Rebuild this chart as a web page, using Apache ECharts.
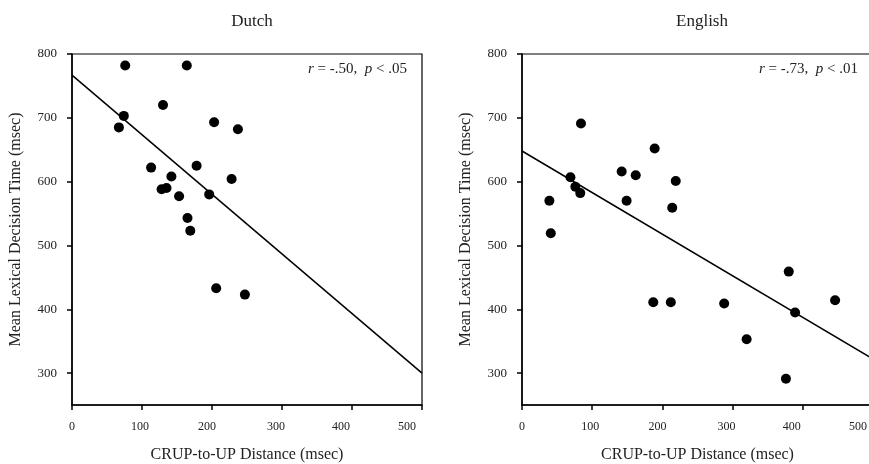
<!DOCTYPE html>
<html>
<head>
<meta charset="utf-8">
<script src="https://cdn.jsdelivr.net/npm/echarts@6/dist/echarts.min.js"></script>
<style>
  html, body { margin: 0; padding: 0; background: #fff; }
  #chart { width: 869px; height: 464px; }
</style>
</head>
<body>
<div id="chart"></div>
<script>
// values
const panelNames = ['Dutch', 'English']
const statsText = ['-.50', '-.73']
const pText = ['.05', '.01']

// [CRUP-to-UP distance, mean lexical decision time]
const dutchPoints = [
  [76, 782], [164, 782], [130, 720], [74, 703], [67, 685],
  [203, 693], [237, 682], [113, 622], [178, 625], [142, 608],
  [228, 604], [128, 588], [135, 590], [153, 577], [196, 580],
  [165, 543], [169, 523], [206, 433], [247, 423]
]
const englishPoints = [
  [84, 691], [189, 652], [142, 616], [162, 610], [69, 607],
  [76, 592], [83, 582], [219, 601], [39, 570], [149, 570],
  [214, 559], [41, 519], [380, 459], [187, 411], [212, 411],
  [288, 409], [446, 414], [389, 395], [320, 353], [376, 291]
]
// regression lines as drawn
const dutchFit = [[0, 767], [500, 300]]
const englishFit = [[0, 648], [500, 322]]

const xTicks = [0, 100, 200, 300, 400, 500]
const yTicks = [300, 400, 500, 600, 700, 800]

const serif = '"Liberation Serif", "DejaVu Serif", serif'

// the original labels drift left along the x axis
const labelShift = { 0: 0, 100: 4, 200: 10, 300: 12, 400: 22, 500: 30 }
const xRich = {}
xTicks.forEach(function (v) {
  xRich['s' + v] = { fontFamily: serif, fontSize: 12, color: '#222', padding: [0, labelShift[v], 0, 0] }
})

function xAxisFor(gridIndex) {
  return {
    gridIndex: gridIndex,
    type: 'value',
    min: 0,
    max: 500,
    interval: 100,
    name: 'CRUP-to-UP Distance (msec)',
    nameLocation: 'middle',
    nameGap: 42,
    nameTextStyle: { fontFamily: serif, fontSize: 16, color: '#222' },
    axisLine: { lineStyle: { color: '#000', width: 1.5 } },
    axisTick: { length: 5, lineStyle: { color: '#000', width: 1.5 } },
    axisLabel: {
      margin: 16,
      formatter: function (v) { return '{s' + v + '|' + v + '}' },
      rich: xRich
    },
    splitLine: { show: false }
  }
}

function yAxisFor(gridIndex) {
  return {
    gridIndex: gridIndex,
    type: 'value',
    min: 250,
    max: 800,
    name: 'Mean Lexical Decision Time (msec)',
    nameLocation: 'middle',
    nameGap: 48,
    nameRotate: 90,
    nameTextStyle: { fontFamily: serif, fontSize: 16, color: '#222' },
    axisLine: { lineStyle: { color: '#000', width: 1.5 } },
    axisTick: { length: 5, customValues: yTicks, lineStyle: { color: '#000', width: 1.5 } },
    axisLabel: { margin: 15, customValues: yTicks, fontFamily: serif, fontSize: 13, color: '#222' },
    splitLine: { show: false }
  }
}

function scatterSeries(idx, pts) {
  return {
    type: 'scatter',
    xAxisIndex: idx,
    yAxisIndex: idx,
    data: pts,
    symbol: 'circle',
    symbolSize: 10,
    itemStyle: { color: '#000', opacity: 1 },
    z: 3
  }
}

function fitSeries(idx, pts) {
  return {
    type: 'line',
    xAxisIndex: idx,
    yAxisIndex: idx,
    data: pts,
    showSymbol: false,
    lineStyle: { color: '#000', width: 1.5 },
    z: 2
  }
}

const chart = echarts.init(document.getElementById('chart'))

const statsRich = {
  i: { fontFamily: serif, fontSize: 15, fontStyle: 'italic', fontWeight: 'normal', color: '#222' },
  n: { fontFamily: serif, fontSize: 15, fontWeight: 'normal', color: '#222' }
}

chart.setOption({
  backgroundColor: '#fff',
  animation: false,
  title: [
    { text: panelNames[0], left: 247, top: 8, textAlign: 'center',
      textStyle: { fontFamily: serif, fontSize: 17, fontWeight: 'normal', color: '#222' } },
    { text: panelNames[1], left: 697, top: 8, textAlign: 'center',
      textStyle: { fontFamily: serif, fontSize: 17, fontWeight: 'normal', color: '#222' } },
    { text: '{i|r}{n| = ' + statsText[0] + ',  }{i|p}{n| < ' + pText[0] + '}', right: 457, top: 57,
      textStyle: { fontWeight: 'normal', rich: statsRich } },
    { text: '{i|r}{n| = ' + statsText[1] + ',  }{i|p}{n| < ' + pText[1] + '}', right: 6, top: 57,
      textStyle: { fontWeight: 'normal', rich: statsRich } }
  ],
  grid: [
    { left: 72, top: 54, width: 350, height: 351, outerBoundsMode: 'none', containLabel: false,
      show: true, borderColor: '#000', borderWidth: 1.2, backgroundColor: 'transparent' },
    { left: 522, top: 54, width: 351, height: 351, outerBoundsMode: 'none', containLabel: false,
      show: true, borderColor: '#000', borderWidth: 1.2, backgroundColor: 'transparent' }
  ],
  xAxis: [xAxisFor(0), xAxisFor(1)],
  yAxis: [yAxisFor(0), yAxisFor(1)],
  series: [
    fitSeries(0, dutchFit),
    scatterSeries(0, dutchPoints),
    fitSeries(1, englishFit),
    scatterSeries(1, englishPoints)
  ]
})
</script>
</body>
</html>
